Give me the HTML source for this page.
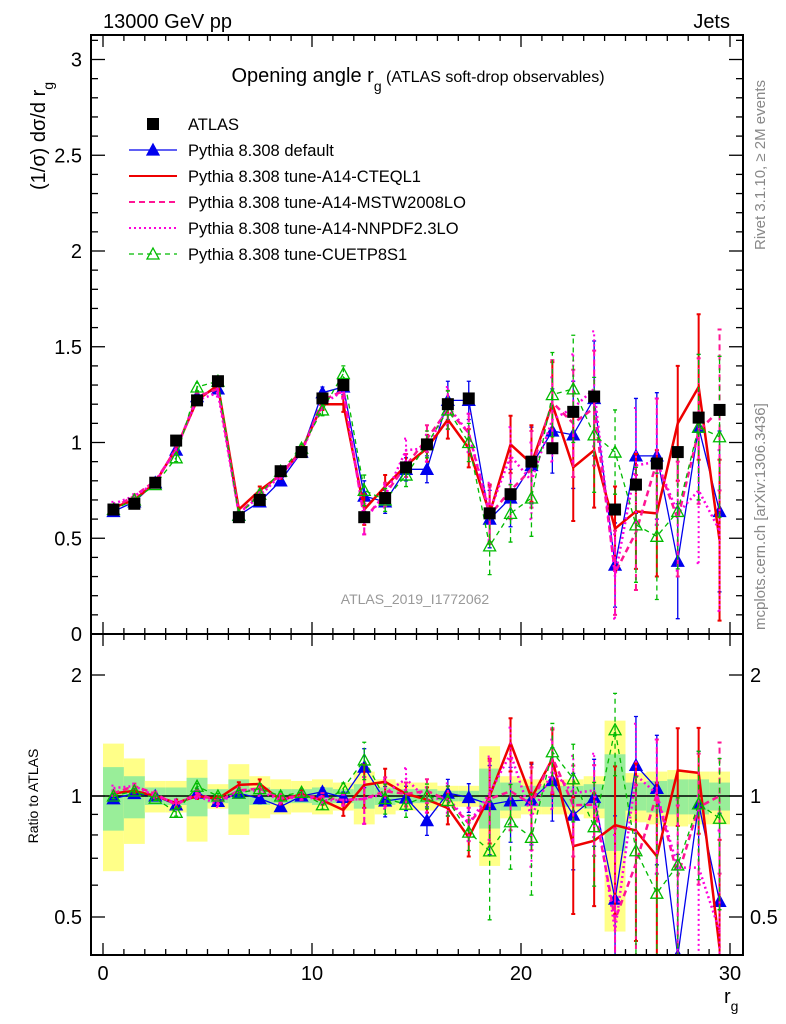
<!DOCTYPE html>
<html><head><meta charset="utf-8"><style>
html,body{margin:0;padding:0;background:#fff;width:786px;height:1024px;overflow:hidden;}
svg{display:block;font-family:"Liberation Sans",sans-serif;}
</style></head><body>
<svg id="chart" width="786" height="1024" viewBox="0 0 786 1024">
<defs>
<clipPath id="clipMain"><rect x="91" y="35" width="652" height="599"/></clipPath>
<clipPath id="clipRatio"><rect x="91" y="634" width="652" height="321"/></clipPath>
</defs>
<g id="bands" clip-path="url(#clipRatio)"></g>
<g id="marks"></g>
<g id="axes"></g>
<text x="103" y="28" font-size="20">13000 GeV pp</text>
<text x="730" y="28" font-size="20" text-anchor="end">Jets</text>
<text x="418" y="82" font-size="20" text-anchor="middle">Opening angle r<tspan font-size="14" dy="9">g</tspan><tspan font-size="16" dy="-9"> (ATLAS soft-drop observables)</tspan></text>
<text transform="translate(45,190) rotate(-90)" font-size="20">(1/σ) dσ/d r<tspan font-size="14" dy="8">g</tspan></text>
<text transform="translate(38,796) rotate(-90)" font-size="14" text-anchor="middle">Ratio to ATLAS</text>
<text x="724" y="1003" font-size="20">r<tspan font-size="14" dy="8">g</tspan></text>
<text transform="translate(765,250) rotate(-90)" font-size="15" fill="#888">Rivet 3.1.10, ≥ 2M events</text>
<text transform="translate(765,630) rotate(-90)" font-size="15" fill="#888">mcplots.cern.ch [arXiv:1306.3436]</text>
<text x="415" y="604" font-size="14" fill="#999" text-anchor="middle">ATLAS_2019_I1772062</text>
<g id="legend"></g>
</svg>
<script>
const bins = [0.5,1.5,2.5,3.5,4.5,5.5,6.5,7.5,8.5,9.5,10.5,11.5,12.5,13.5,14.5,15.5,16.5,17.5,18.5,19.5,20.5,21.5,22.5,23.5,24.5,25.5,26.5,27.5,28.5,29.5];
const atlas = [0.65,0.68,0.79,1.01,1.22,1.32,0.61,0.70,0.85,0.95,1.23,1.30,0.61,0.71,0.87,0.99,1.20,1.23,0.63,0.73,0.90,0.97,1.16,1.24,0.65,0.78,0.89,0.95,1.13,1.17];
const atlasTotRel = [0.35,0.24,0.09,0.09,0.23,0.07,0.2,0.12,0.10,0.09,0.10,0.08,0.15,0.10,0.08,0.08,0.06,0.06,0.33,0.12,0.10,0.10,0.10,0.12,0.54,0.14,0.15,0.16,0.15,0.15];
const atlasStatRel = [0.18,0.12,0.05,0.05,0.11,0.04,0.10,0.05,0.04,0.04,0.05,0.04,0.07,0.05,0.04,0.04,0.03,0.03,0.17,0.08,0.06,0.06,0.06,0.07,0.27,0.08,0.09,0.10,0.10,0.08];
const pyDefault = [0.64,0.69,0.79,0.96,1.24,1.28,0.62,0.69,0.80,0.95,1.26,1.29,0.72,0.69,0.86,0.86,1.22,1.22,0.60,0.71,0.88,1.06,1.04,1.23,0.36,0.93,0.93,0.38,1.08,0.64];
const pyCteq = [0.66,0.70,0.79,0.97,1.22,1.30,0.65,0.75,0.83,0.96,1.20,1.20,0.65,0.77,0.88,0.97,1.12,0.97,0.63,0.99,0.89,1.20,0.87,0.96,0.55,0.64,0.63,1.10,1.29,0.49];
const pyMstw = [0.66,0.72,0.80,0.96,1.24,1.28,0.63,0.73,0.84,0.95,1.22,1.27,0.60,0.73,0.88,1.02,1.17,1.05,0.62,0.75,0.86,1.21,1.10,1.18,0.32,0.53,0.90,0.60,1.06,1.17];
const pyNnpdf = [0.68,0.72,0.79,0.97,1.22,1.26,0.63,0.72,0.83,0.95,1.20,1.27,0.60,0.72,0.96,0.97,1.19,1.05,0.64,0.93,0.80,1.12,1.18,1.28,0.30,0.88,0.90,0.63,0.75,0.54];
const pyCuetp = [0.65,0.70,0.78,0.92,1.29,1.32,0.62,0.73,0.85,0.97,1.17,1.36,0.75,0.70,0.83,0.99,1.17,1.00,0.46,0.63,0.71,1.25,1.28,1.04,0.95,0.57,0.51,0.64,1.08,1.03];
const mcErr = [0.01,0.01,0.01,0.02,0.02,0.02,0.01,0.02,0.02,0.02,0.03,0.04,0.08,0.06,0.06,0.07,0.10,0.10,0.15,0.15,0.20,0.22,0.28,0.30,0.22,0.30,0.33,0.30,0.38,0.42];
const xTicks = [0,10,20,30];
const yTicks = [0,0.5,1,1.5,2,2.5,3];
const yTickLabels = ["0","0.5","1","1.5","2","2.5","3"];
const rTicks = [0.5,1,2];

const NS="http://www.w3.org/2000/svg";
const X = v => 103 + v*20.9;
const Y = v => 634 - v*191.5;
const R = v => 796 - 121*Math.log2(v);
function mk(tag, attrs, parent){const e=document.createElementNS(NS,tag);for(const k in attrs)e.setAttribute(k,attrs[k]);parent.appendChild(e);return e;}
const bandsG=document.getElementById('bands'), marks=document.getElementById('marks'), axes=document.getElementById('axes'), leg=document.getElementById('legend');

bins.forEach((b,i)=>{
  const t=atlasTotRel[i], s=atlasStatRel[i];
  const y1=mk('rect',{x:X(b-0.5),y:R(1+t),width:20.9,height:R(Math.max(1-t,0.05))-R(1+t),fill:'#ffff88'},bandsG);
  
  
  const g1=mk('rect',{x:X(b-0.5),y:R(1+s),width:20.9,height:R(1-s)-R(1+s),fill:'#99ee99'},bandsG);
  
  
});
const unity=mk('line',{x1:91,x2:743,y1:R(1),y2:R(1),stroke:'#000','stroke-width':1.5},bandsG);



const series=[
 {name:'pythia-default',vals:pyDefault,color:'#0000ee',w:1.3,dash:'',marker:'tri-filled'},
 {name:'pythia-a14-cteql1',vals:pyCteq,color:'#ee0000',w:2.5,dash:'',marker:''},
 {name:'pythia-a14-mstw2008lo',vals:pyMstw,color:'#ff1493',w:2.5,dash:'6,4',marker:''},
 {name:'pythia-a14-nnpdf23lo',vals:pyNnpdf,color:'#ff00dd',w:2.5,dash:'2,3',marker:''},
 {name:'pythia-cuetp8s1',vals:pyCuetp,color:'#00bb00',w:1.3,dash:'5,4',marker:'tri-open'}
];
function tri(g,x,y,s,open){
  const p=mk('path',{d:`M${x},${y-6} L${x+6},${y+5} L${x-6},${y+5} Z`,fill:open?'none':s.color,stroke:s.color,'stroke-width':1.3},g);
  
  
}
function drawPanel(clip, fy, ratio){
  const g=mk('g',{'clip-path':`url(#${clip})`},marks);
  
  
  series.forEach(s=>{
    const vals=s.vals.map((v,i)=>ratio? v/atlas[i] : v);
    const errs=mcErr.map((e,i)=>ratio? e/atlas[i] : e);
    const sg=mk('g',{},g);
    
    
    vals.forEach((v,i)=>{
      const lo=Math.max(v-errs[i],0.05), hi=v+errs[i];
      const eb=mk('path',{d:`M${X(bins[i])},${fy(lo)} V${fy(hi)} M${X(bins[i])-2},${fy(lo)} h4 M${X(bins[i])-2},${fy(hi)} h4`,stroke:s.color,'stroke-width':s.w>2?2:1.3,'stroke-dasharray':s.dash,fill:'none'},sg);
      
      
    });
    const d=vals.map((v,i)=>(i?'L':'M')+X(bins[i])+','+fy(v)).join(' ');
    const ln=mk('path',{d,stroke:s.color,'stroke-width':s.w,'stroke-dasharray':s.dash,fill:'none'},sg);
    
    
    if(s.marker) vals.forEach((v,i)=>tri(sg,X(bins[i]),fy(v),s,s.marker==='tri-open'));
  });
  if(!ratio){
    atlas.forEach((v,i)=>{
      const m=mk('rect',{x:X(bins[i])-6,y:Y(v)-6,width:12,height:12,fill:'#000'},g);
      
      
    });
  }
}
drawPanel('clipMain',Y,false);
drawPanel('clipRatio',R,true);

[[35,634],[634,955]].forEach(([t,b])=>{
  const f=mk('rect',{x:91,y:t,width:652,height:b-t,fill:'none',stroke:'#000','stroke-width':2},axes);
  
  
});
for(let v=0;v<=30;v++){
  const maj=v%10===0, L=maj?12:6;
  [[35,1],[634,-1],[634,1],[955,-1]].forEach(([y,dir])=>{
    mk('line',{x1:X(v),x2:X(v),y1:y,y2:y+dir*L,stroke:'#000','stroke-width':1.3},axes);
  });
}
xTicks.forEach(v=>{
  const t=mk('text',{x:X(v),y:980,'font-size':20,'text-anchor':'middle'},axes);
  t.textContent=String(v);
  
  
});
for(let k=0;k<=31;k++){
  const v=k/10, maj=k%5===0, L=maj?14:7;
  const y=Y(v); if(y<35) continue;
  mk('line',{x1:91,x2:91+L,y1:y,y2:y,stroke:'#000','stroke-width':1.3},axes);
  mk('line',{x1:743,x2:743-L,y1:y,y2:y,stroke:'#000','stroke-width':1.3},axes);
}
yTicks.forEach((v,i)=>{
  const t=mk('text',{x:82,y:Y(v)+7,'font-size':20,'text-anchor':'end'},axes);
  t.textContent=yTickLabels[i];
  
  
});
[0.4,0.5,0.6,0.7,0.8,0.9,1,2].forEach(v=>{
  const maj=(v===0.5||v===1||v===2), L=maj?14:7, y=R(v);
  if(y>955) return;
  mk('line',{x1:91,x2:91+L,y1:y,y2:y,stroke:'#000','stroke-width':1.3},axes);
  mk('line',{x1:743,x2:743-L,y1:y,y2:y,stroke:'#000','stroke-width':1.3},axes);
});
rTicks.forEach(v=>{
  [[82,'end'],[750,'start']].forEach(([x,a])=>{
    const t=mk('text',{x,y:R(v)+7,'font-size':20,'text-anchor':a},axes);
    t.textContent=String(v);
    
    
  });
});

const legItems=[
 {label:'ATLAS',s:null},
 {label:'Pythia 8.308 default',s:series[0]},
 {label:'Pythia 8.308 tune-A14-CTEQL1',s:series[1]},
 {label:'Pythia 8.308 tune-A14-MSTW2008LO',s:series[2]},
 {label:'Pythia 8.308 tune-A14-NNPDF2.3LO',s:series[3]},
 {label:'Pythia 8.308 tune-CUETP8S1',s:series[4]}
];
legItems.forEach((it,i)=>{
  const y=124+i*26;
  const g=mk('g',{},leg);
  
  
  if(!it.s){ mk('rect',{x:147,y:y-6,width:12,height:12,fill:'#000'},g); }
  else{
    mk('line',{x1:129,x2:177,y1:y,y2:y,stroke:it.s.color,'stroke-width':it.s.w>2?2:1.3,'stroke-dasharray':it.s.dash},g);
    if(it.s.marker) tri(g,153,y,it.s,it.s.marker==='tri-open');
  }
  const t=mk('text',{x:188,y:y+6,'font-size':16.5},g);
  t.textContent=it.label;
});
</script>
</body></html>
